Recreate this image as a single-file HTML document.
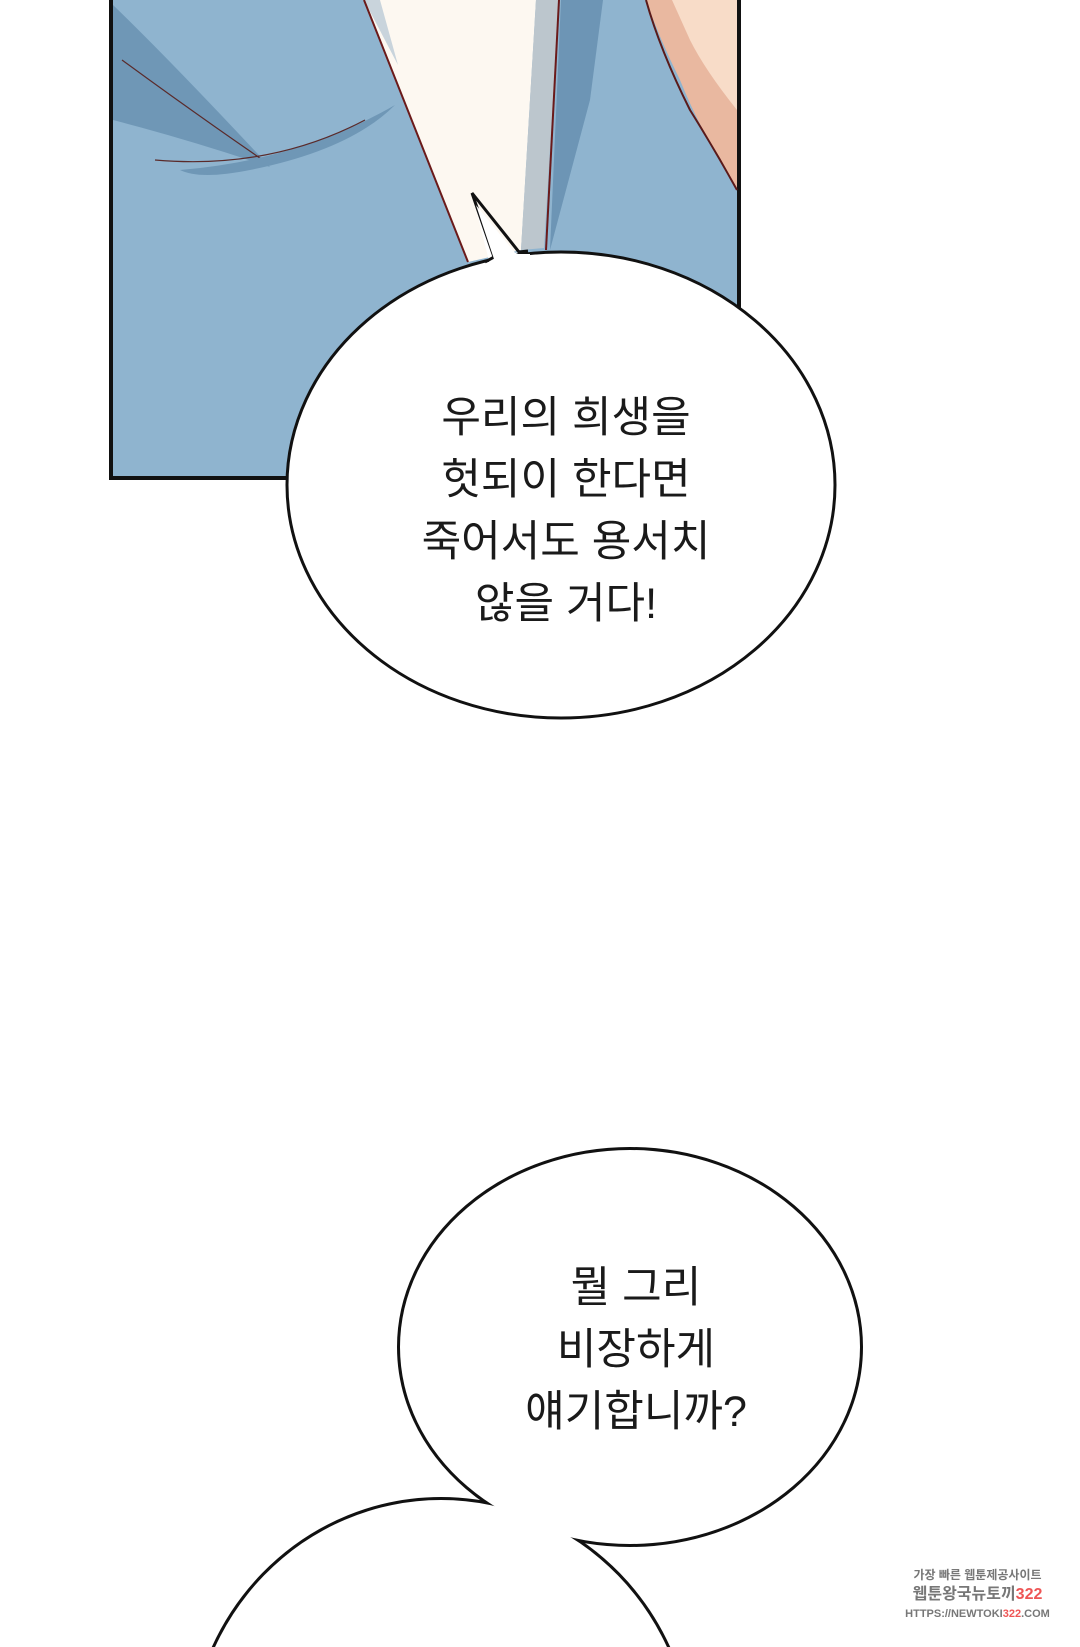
<!DOCTYPE html>
<html><head><meta charset="utf-8"><style>
html,body{margin:0;padding:0;background:#fff;}
body{width:1080px;height:1647px;position:relative;overflow:hidden;}
svg{position:absolute;left:0;top:0;overflow:hidden;}
.t{position:absolute;font-family:"Liberation Sans","Noto Sans CJK KR","NanumGothic",sans-serif;color:#1a1a1a;text-align:center;font-size:43px;line-height:62px;white-space:nowrap;}
.wm{position:absolute;font-family:"Liberation Sans","Noto Sans CJK KR",sans-serif;color:#777;font-weight:bold;text-align:center;white-space:nowrap;}
</style></head><body>
<svg width="1080" height="1647" viewBox="0 0 1080 1647">
  <rect x="111" y="-5" width="628" height="483" fill="#8fb4cf" stroke="#111" stroke-width="4"/>
  <path d="M113,5 Q170,60 270,167 Q190,140 113,120 Z" fill="#6f97b6"/>
  <path d="M122,60 Q190,110 270,165" fill="none" stroke="#5a2a2a" stroke-width="1.2"/>
  <path d="M180,170 Q300,160 395,105 Q350,150 250,170 Q200,180 180,170 Z" fill="#6f97b6"/>
  <path d="M155,160 Q270,170 365,120" fill="none" stroke="#5a2a2a" stroke-width="1.2"/>
  <polygon points="561,0 603,0 590,100 550,250" fill="#6d95b5"/>
  <polygon points="364,0 536,0 521,250 468,262" fill="#fdf8f1"/>
  <polygon points="364,0 380,0 398,65" fill="#c9d4dc"/>
  <line x1="364" y1="0" x2="468" y2="262" stroke="#6b1a1a" stroke-width="2"/>
  <polygon points="536,0 559,0 544,248 521,250" fill="#bcc6cd"/>
  <line x1="559" y1="0" x2="546" y2="250" stroke="#6b1a1a" stroke-width="2"/>
  <path d="M646,0 L737,0 L737,190 Q700,130 680,80 Q660,40 646,0 Z" fill="#e9b8a0"/>
  <path d="M672,0 L737,0 L737,110 Q705,70 690,40 Z" fill="#f8dcc8"/>
  <path d="M646,0 Q660,50 690,110 Q715,150 737,190" fill="none" stroke="#5a1a1a" stroke-width="2"/>
  <polygon points="645,270 652,330 665,340" fill="#6d95b5"/>
  <!-- bubble 1 -->
  <ellipse cx="561" cy="485" rx="274" ry="233" fill="#fff" stroke="#111" stroke-width="3"/>
  <polygon points="472,193 494,257 519,252 500,265 490,265" fill="#fff"/>
  <polyline points="485,262 494,257 472,193 519,252 528,251" fill="none" stroke="#111" stroke-width="3" stroke-linejoin="miter"/>
  <polygon points="486,264 494,259 476,205 516,254 530,254 530,268 486,268" fill="#fff"/>
  <!-- bubble 2 union -->
  <ellipse cx="630" cy="1347" rx="230" ry="197" fill="none" stroke="#111" stroke-width="6"/>
  <ellipse cx="441" cy="1757" rx="250" ry="257" fill="none" stroke="#111" stroke-width="6"/>
  <ellipse cx="630" cy="1347" rx="230" ry="197" fill="#fff"/>
  <ellipse cx="441" cy="1757" rx="250" ry="257" fill="#fff"/>
</svg>
<div class="t" style="left:366px;top:387px;width:400px;">우리의 희생을<br>헛되이 한다면<br>죽어서도 용서치<br>않을 거다!</div>
<div class="t" style="left:436px;top:1257px;width:400px;">뭘 그리<br>비장하게<br>얘기합니까?</div>
<div class="wm" style="left:905px;top:1567px;width:145px;font-size:12px;line-height:16px;">가장 빠른 웹툰제공사이트</div>
<div class="wm" style="left:905px;top:1585px;width:145px;font-size:16px;line-height:20px;">웹툰왕국뉴토끼<span style="color:#e55">322</span></div>
<div class="wm" style="left:905px;top:1606px;width:145px;font-size:11px;line-height:16px;">HTTPS://NEWTOKI<span style="color:#e55">322</span>.COM</div>
</body></html>
